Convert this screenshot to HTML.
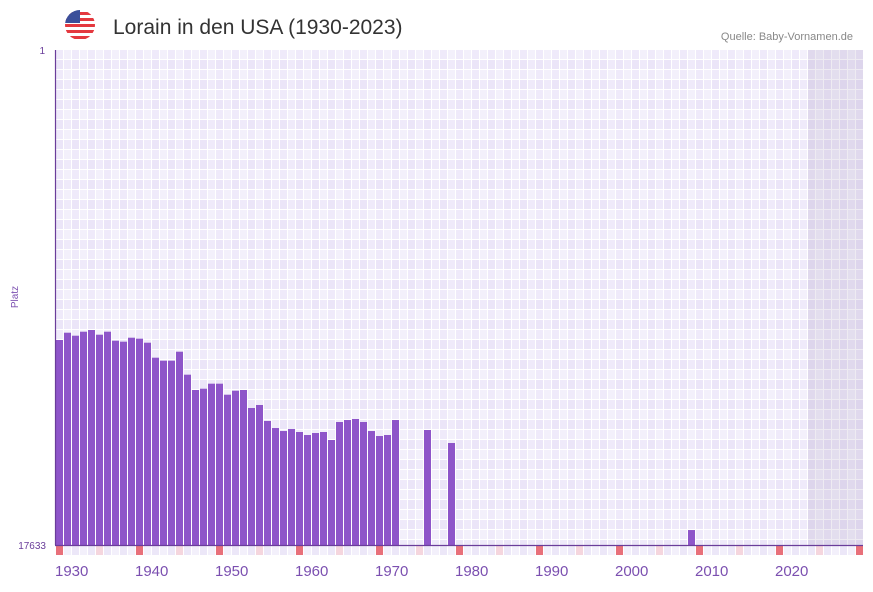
<!DOCTYPE html>
<html><head><meta charset="utf-8"><style>
body{margin:0;background:#fff;font-family:"Liberation Sans",sans-serif}
</style></head><body>
<svg width="873" height="587">
<defs>
<pattern id="grid" x="56" y="50" width="16" height="20" patternUnits="userSpaceOnUse">
<rect width="16" height="20" fill="#fff"/>
<rect x="0" y="0" width="7" height="9" fill="#efeafa"/>
<rect x="8" y="0" width="7" height="9" fill="#f3f0fb"/>
<rect x="0" y="10" width="7" height="9" fill="#ebe5f8"/>
<rect x="8" y="10" width="7" height="9" fill="#efeafa"/>
</pattern>
<clipPath id="flagc"><circle cx="80" cy="25" r="15"/></clipPath>
</defs>
<g clip-path="url(#flagc)">
<rect x="65" y="10" width="30" height="30" fill="#fff"/>
<rect x="65" y="12" width="30" height="3" fill="#e4393f"/>
<rect x="65" y="18" width="30" height="3" fill="#e4393f"/>
<rect x="65" y="24" width="30" height="3" fill="#e4393f"/>
<rect x="65" y="30" width="30" height="3" fill="#e4393f"/>
<rect x="65" y="36" width="30" height="3" fill="#e4393f"/>
<rect x="65" y="10" width="15" height="13" fill="#3b4f9a"/>
</g>
<text x="113" y="34" font-size="21" fill="#333">Lorain in den USA (1930-2023)</text>
<text x="853" y="40" font-size="11" fill="#888" text-anchor="end">Quelle: Baby-Vornamen.de</text>
<rect x="56" y="50" width="807" height="495" fill="url(#grid)"/>
<rect x="808" y="50" width="55" height="495" fill="#8c7aa8" opacity="0.15"/>
<g id="bars"></g>
<g id="strip"></g>
<g id="xlabels"></g>
<line x1="55.5" y1="50" x2="55.5" y2="545" stroke="#6a3d9a" stroke-width="1.2"/>
<line x1="55" y1="545.5" x2="863" y2="545.5" stroke="#6a3d9a" stroke-width="1.2"/>
<text x="45" y="54" font-size="10" fill="#6a3d9a" text-anchor="end">1</text>
<text x="46" y="549" font-size="10" fill="#6a3d9a" text-anchor="end">17633</text>
<text x="18" y="297" font-size="10" fill="#7b4fb0" text-anchor="middle" transform="rotate(-90 18 297)">Platz</text>
</svg>
<script>
const years=[1930,1931,1932,1933,1934,1935,1936,1937,1938,1939,1940,1941,1942,1943,1944,1945,1946,1947,1948,1949,1950,1951,1952,1953,1954,1955,1956,1957,1958,1959,1960,1961,1962,1963,1964,1965,1966,1967,1968,1969,1970,1971,1972,1976,1979,2009];
const ranks=[10331,10071,10178,10035,9975,10142,10035,10356,10391,10249,10284,10427,10961,11068,11068,10747,11566,12112,12066,11887,11887,12279,12137,12112,12753,12646,13216,13466,13573,13502,13608,13715,13644,13608,13893,13252,13181,13145,13252,13573,13751,13715,13181,13537,14000,17100];
const tickYears=[1930,1940,1950,1960,1970,1980,1990,2000,2010,2020];
const minRank=1,maxRank=17633,firstYear=1930,lastYear=2030;
const NS="http://www.w3.org/2000/svg";
const x=yr=>56+(yr-firstYear)*8;
const y=r=>50+(r-minRank)/(maxRank-minRank)*495;
const bars=document.getElementById('bars');
years.forEach((yr,i)=>{
 const r=document.createElementNS(NS,'rect');
 r.setAttribute('x',x(yr));r.setAttribute('y',y(ranks[i]));
 r.setAttribute('width',7);r.setAttribute('height',545-y(ranks[i]));
 r.setAttribute('fill','#8e55c9');
 
 
 bars.appendChild(r);
});
const strip=document.getElementById('strip');
for(let yr=firstYear;yr<=lastYear;yr++){
 const r=document.createElementNS(NS,'rect');
 r.setAttribute('x',x(yr));r.setAttribute('y',546);r.setAttribute('width',7);r.setAttribute('height',9);
 r.setAttribute('fill',yr%10==0?'#e8707a':yr%5==0?'#f5d6de':(yr%2?'#f3f0fb':'#ece7f8'));
 
 
 strip.appendChild(r);
}
const xl=document.getElementById('xlabels');
tickYears.forEach(t=>{
 const tx=document.createElementNS(NS,'text');
 tx.setAttribute('x',x(t)-1);tx.setAttribute('y',576);
 tx.setAttribute('font-size','15');tx.setAttribute('fill','#7b4fb0');
 tx.textContent=t;
 
 
 xl.appendChild(tx);
});
</script>
</body></html>
